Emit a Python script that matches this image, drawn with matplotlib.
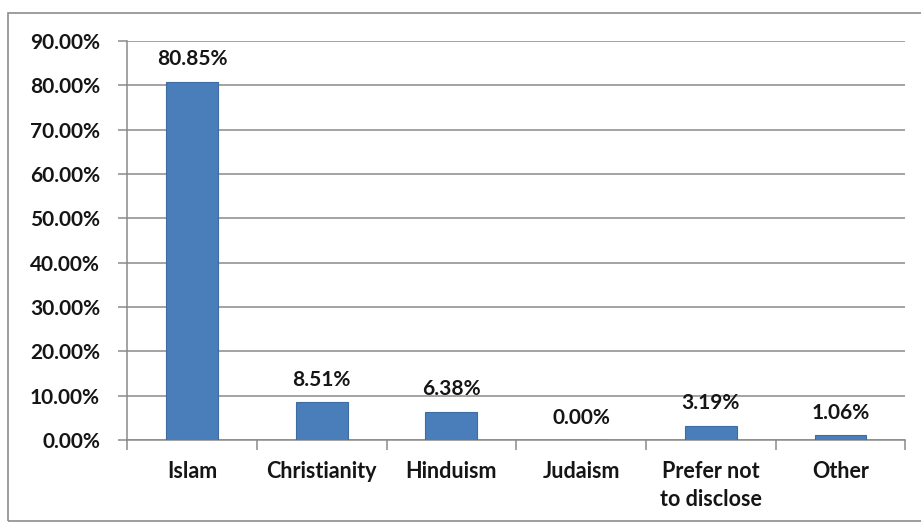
import matplotlib.pyplot as plt
import numpy as np
from matplotlib.patches import Rectangle

categories = ["Islam", "Christianity", "Hinduism", "Judaism", "Prefer not\nto disclose", "Other"]
values = [80.85, 8.51, 6.38, 0.00, 3.19, 1.06]
yticks = [0, 10, 20, 30, 40, 50, 60, 70, 80, 90]

plt.rcParams['font.family'] = ['Lato', 'DejaVu Sans']
plt.rcParams['font.weight'] = 'bold'

fig = plt.figure(figsize=(9.21, 5.23), dpi=100)
ax = fig.add_axes([0.138, 0.1587, 0.845, 0.7629])

# outer chart frame
fig.patches.append(Rectangle((8 / 921, 2 / 523), 1.2, 508 / 523, transform=fig.transFigure,
                             fill=False, edgecolor='#8c8c8c', linewidth=1.2))

x = np.arange(len(categories))
ax.bar(x, values, width=0.4, color='#4a7ebb', edgecolor='#3d6ca3', linewidth=0.8, zorder=3)

for xi, v in zip(x, values):
    ax.text(xi, v + 2.8, f"{v:.2f}%", ha='center', va='bottom', fontsize=15,
            fontweight='bold', color='#151515')

ax.set_xlim(-0.5, len(categories) - 0.5)
ax.set_ylim(0, 90)
ax.set_yticks(yticks)
ax.set_yticklabels([f"{t:.2f}%" for t in yticks], fontsize=15, fontweight='bold', color='#151515')
ax.yaxis.grid(True, color='#8a8a8a', linewidth=1.1, zorder=0)

ax.set_xticks(x)
ax.set_xticklabels(categories, fontsize=15.5, fontweight='bold', color='#151515', linespacing=1.45)
ax.tick_params(axis='x', length=0, pad=15)
ax.set_xticks(np.arange(-0.5, len(categories)), minor=True)
ax.tick_params(axis='x', which='minor', length=7, color='#8a8a8a', width=1.1)
ax.tick_params(axis='y', length=6.5, color='#8a8a8a', width=1.1, pad=13)

for side in ['top', 'right']:
    ax.spines[side].set_visible(False)
for side in ['left', 'bottom']:
    ax.spines[side].set_color('#8a8a8a')
    ax.spines[side].set_linewidth(1.1)

fig.savefig("out.png", dpi=100)
